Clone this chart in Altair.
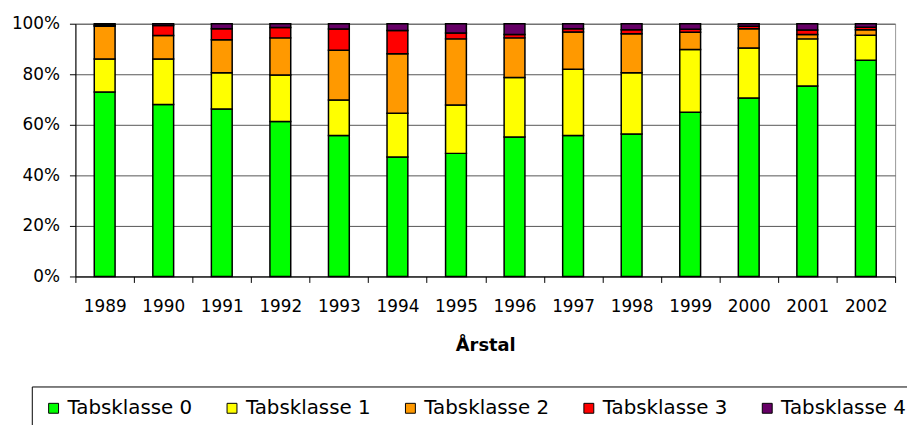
import altair as alt
import pandas as pd

years = ["1989", "1990", "1991", "1992", "1993", "1994", "1995",
         "1996", "1997", "1998", "1999", "2000", "2001", "2002"]
classes = ["Tabsklasse 0", "Tabsklasse 1", "Tabsklasse 2", "Tabsklasse 3", "Tabsklasse 4"]
colors = ["#00FF00", "#FFFF00", "#FF9900", "#FF0000", "#660066"]

klasse0 = [73.0, 68.0, 66.3, 61.3, 55.8, 47.3, 48.7, 55.2, 55.8, 56.4, 65.0, 70.6, 75.4, 85.5]
klasse1 = [13.0, 18.0, 14.3, 18.4, 14.0, 17.3, 19.1, 23.5, 26.2, 24.2, 24.8, 19.8, 18.6, 9.9]
klasse2 = [13.0, 9.3, 13.1, 14.7, 19.7, 23.5, 26.2, 15.7, 14.7, 15.4, 6.8, 7.6, 1.7, 2.2]
klasse3 = [0.4, 4.0, 4.3, 4.1, 8.4, 9.2, 2.3, 1.3, 1.3, 1.6, 1.2, 1.0, 1.8, 1.0]
klasse4 = [0.6, 0.7, 2.0, 1.5, 2.1, 2.7, 3.7, 4.3, 2.0, 2.4, 2.2, 1.0, 2.5, 1.4]

series = [klasse0, klasse1, klasse2, klasse3, klasse4]
rows = []
for ci, (name, vals) in enumerate(zip(classes, series)):
    for y, v in zip(years, vals):
        rows.append({"year": y, "klasse": name, "value": v, "ord": ci})
df = pd.DataFrame(rows)

font = "DejaVu Sans"

chart = alt.Chart(df).mark_bar(size=21, stroke="black", strokeWidth=1.5).encode(
    x=alt.X("year:N", sort=years,
            scale=alt.Scale(paddingInner=0, paddingOuter=0),
            axis=alt.Axis(title="Årstal", labelAngle=0, tickSize=6, tickBand="extent",
                          labelPadding=16, labelFont=font, labelFontSize=17,
                          labelColor="black", titleFont=font, titleFontSize=18,
                          titleFontWeight="bold", titleColor="black", titlePadding=23,
                          domainColor="black", tickColor="black", grid=False)),
    y=alt.Y("value:Q", stack="normalize",
            scale=alt.Scale(domain=[0, 1]),
            axis=alt.Axis(title=None, format=".0%", values=[0, 0.2, 0.4, 0.6, 0.8, 1.0],
                          tickSize=6, labelPadding=10, labelFont=font, labelFontSize=17,
                          labelColor="black", domainColor="black", tickColor="black",
                          grid=True, gridColor="#555555", gridWidth=1)),
    color=alt.Color("klasse:N", sort=classes,
                    scale=alt.Scale(domain=classes, range=colors),
                    legend=alt.Legend(orient="none", legendX=-44, legendY=366,
                                      direction="horizontal", columns=5, title=None,
                                      symbolType="square", symbolSize=100,
                                      symbolStrokeColor="black", symbolStrokeWidth=1,
                                      labelFont=font, labelFontSize=20, labelColor="black",
                                      labelOffset=4, columnPadding=30, labelLimit=300,
                                      strokeColor="black", fillColor="white", padding=12)),
    order=alt.Order("ord:Q", sort="ascending"),
).properties(
    width=827, height=255,
    padding={"left": 68, "top": 14, "right": 12, "bottom": 148},
    autosize=alt.AutoSizeParams(type="none"),
).configure_view(stroke="#999999", strokeWidth=1)

chart.save("out.html", embed_options={"renderer": "svg", "actions": False})
